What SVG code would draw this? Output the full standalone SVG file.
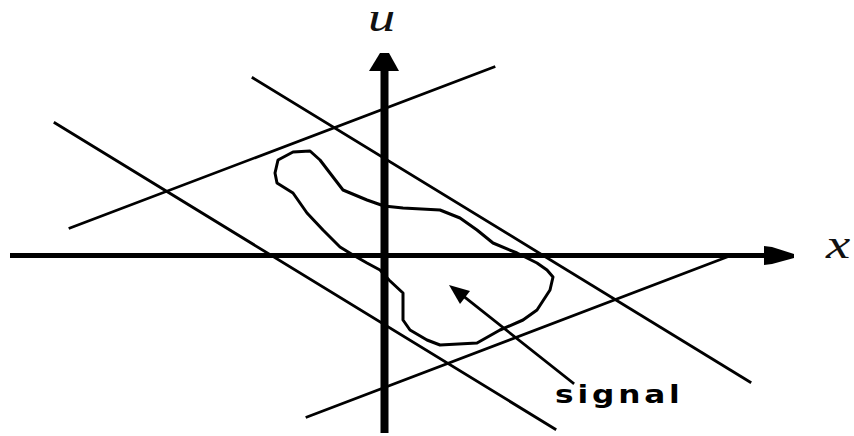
<svg xmlns="http://www.w3.org/2000/svg" width="854" height="436" viewBox="0 0 854 436">
  <style>
    .ln { stroke: #000; stroke-width: 2.8; fill: none; stroke-linecap: square; }
    .blob { stroke: #000; stroke-width: 3; fill: none; stroke-linejoin: round; stroke-linecap: round; }
    .head { fill: #000; stroke: none; }
    .var { font-family: "Liberation Serif", "Times New Roman", serif; font-style: italic; font-size: 42px; fill: #111; }
    .lbl { font-family: "DejaVu Sans", sans-serif; font-weight: bold; font-size: 24px; fill: #000; }
  </style>
  <rect width="854" height="436" fill="#fff"/>
  <g id="boundary-lines">
    <line class="ln" x1="70" y1="228" x2="494" y2="67"/>
    <line class="ln" x1="307" y1="417" x2="727" y2="257"/>
    <line class="ln" x1="253" y1="78" x2="750" y2="382"/>
    <line class="ln" x1="55" y1="123" x2="555" y2="429"/>
  </g>
  <g id="signal-region">
    <polyline class="blob" points="275,173 278,160 293,152 310,151 320,160 333,177 343,190 367,200 384,206 403,208 440,210 460,218 477,230 493,243 517,253 537,263 547,270 553,277 550,290 537,310 523,320 500,330 477,343 440,345 427,340 410,330 403,320 403,293 389,280 380,270 367,263 353,255 340,247 323,230 307,213 293,193 277,183 275,173"/>
  </g>
  <g id="axes">
    <line x1="10" y1="255.5" x2="766" y2="255.5" stroke="#000" stroke-width="5"/>
    <polygon class="head" points="764,246 772,247 794,254 794,258 772,264 764,265"/>
    <line x1="384.5" y1="433" x2="384.5" y2="66" stroke="#000" stroke-width="8"/>
    <polygon class="head" points="380,53 389,53 399,71 369,71"/>
  </g>
  <g id="signal-arrow">
    <line class="ln" x1="573" y1="383" x2="462" y2="295"/>
    <polygon class="head" points="449,285 470,291 460,304"/>
  </g>
  <g id="labels">
    <text class="var" transform="translate(368,31) scale(1.3,1)">u</text>
    <text class="var" transform="translate(826,258) scale(1.3,1)">x</text>
    <text class="lbl" transform="translate(555,403) scale(1.3,1)" textLength="96" lengthAdjust="spacing">signal</text>
  </g>
</svg>
